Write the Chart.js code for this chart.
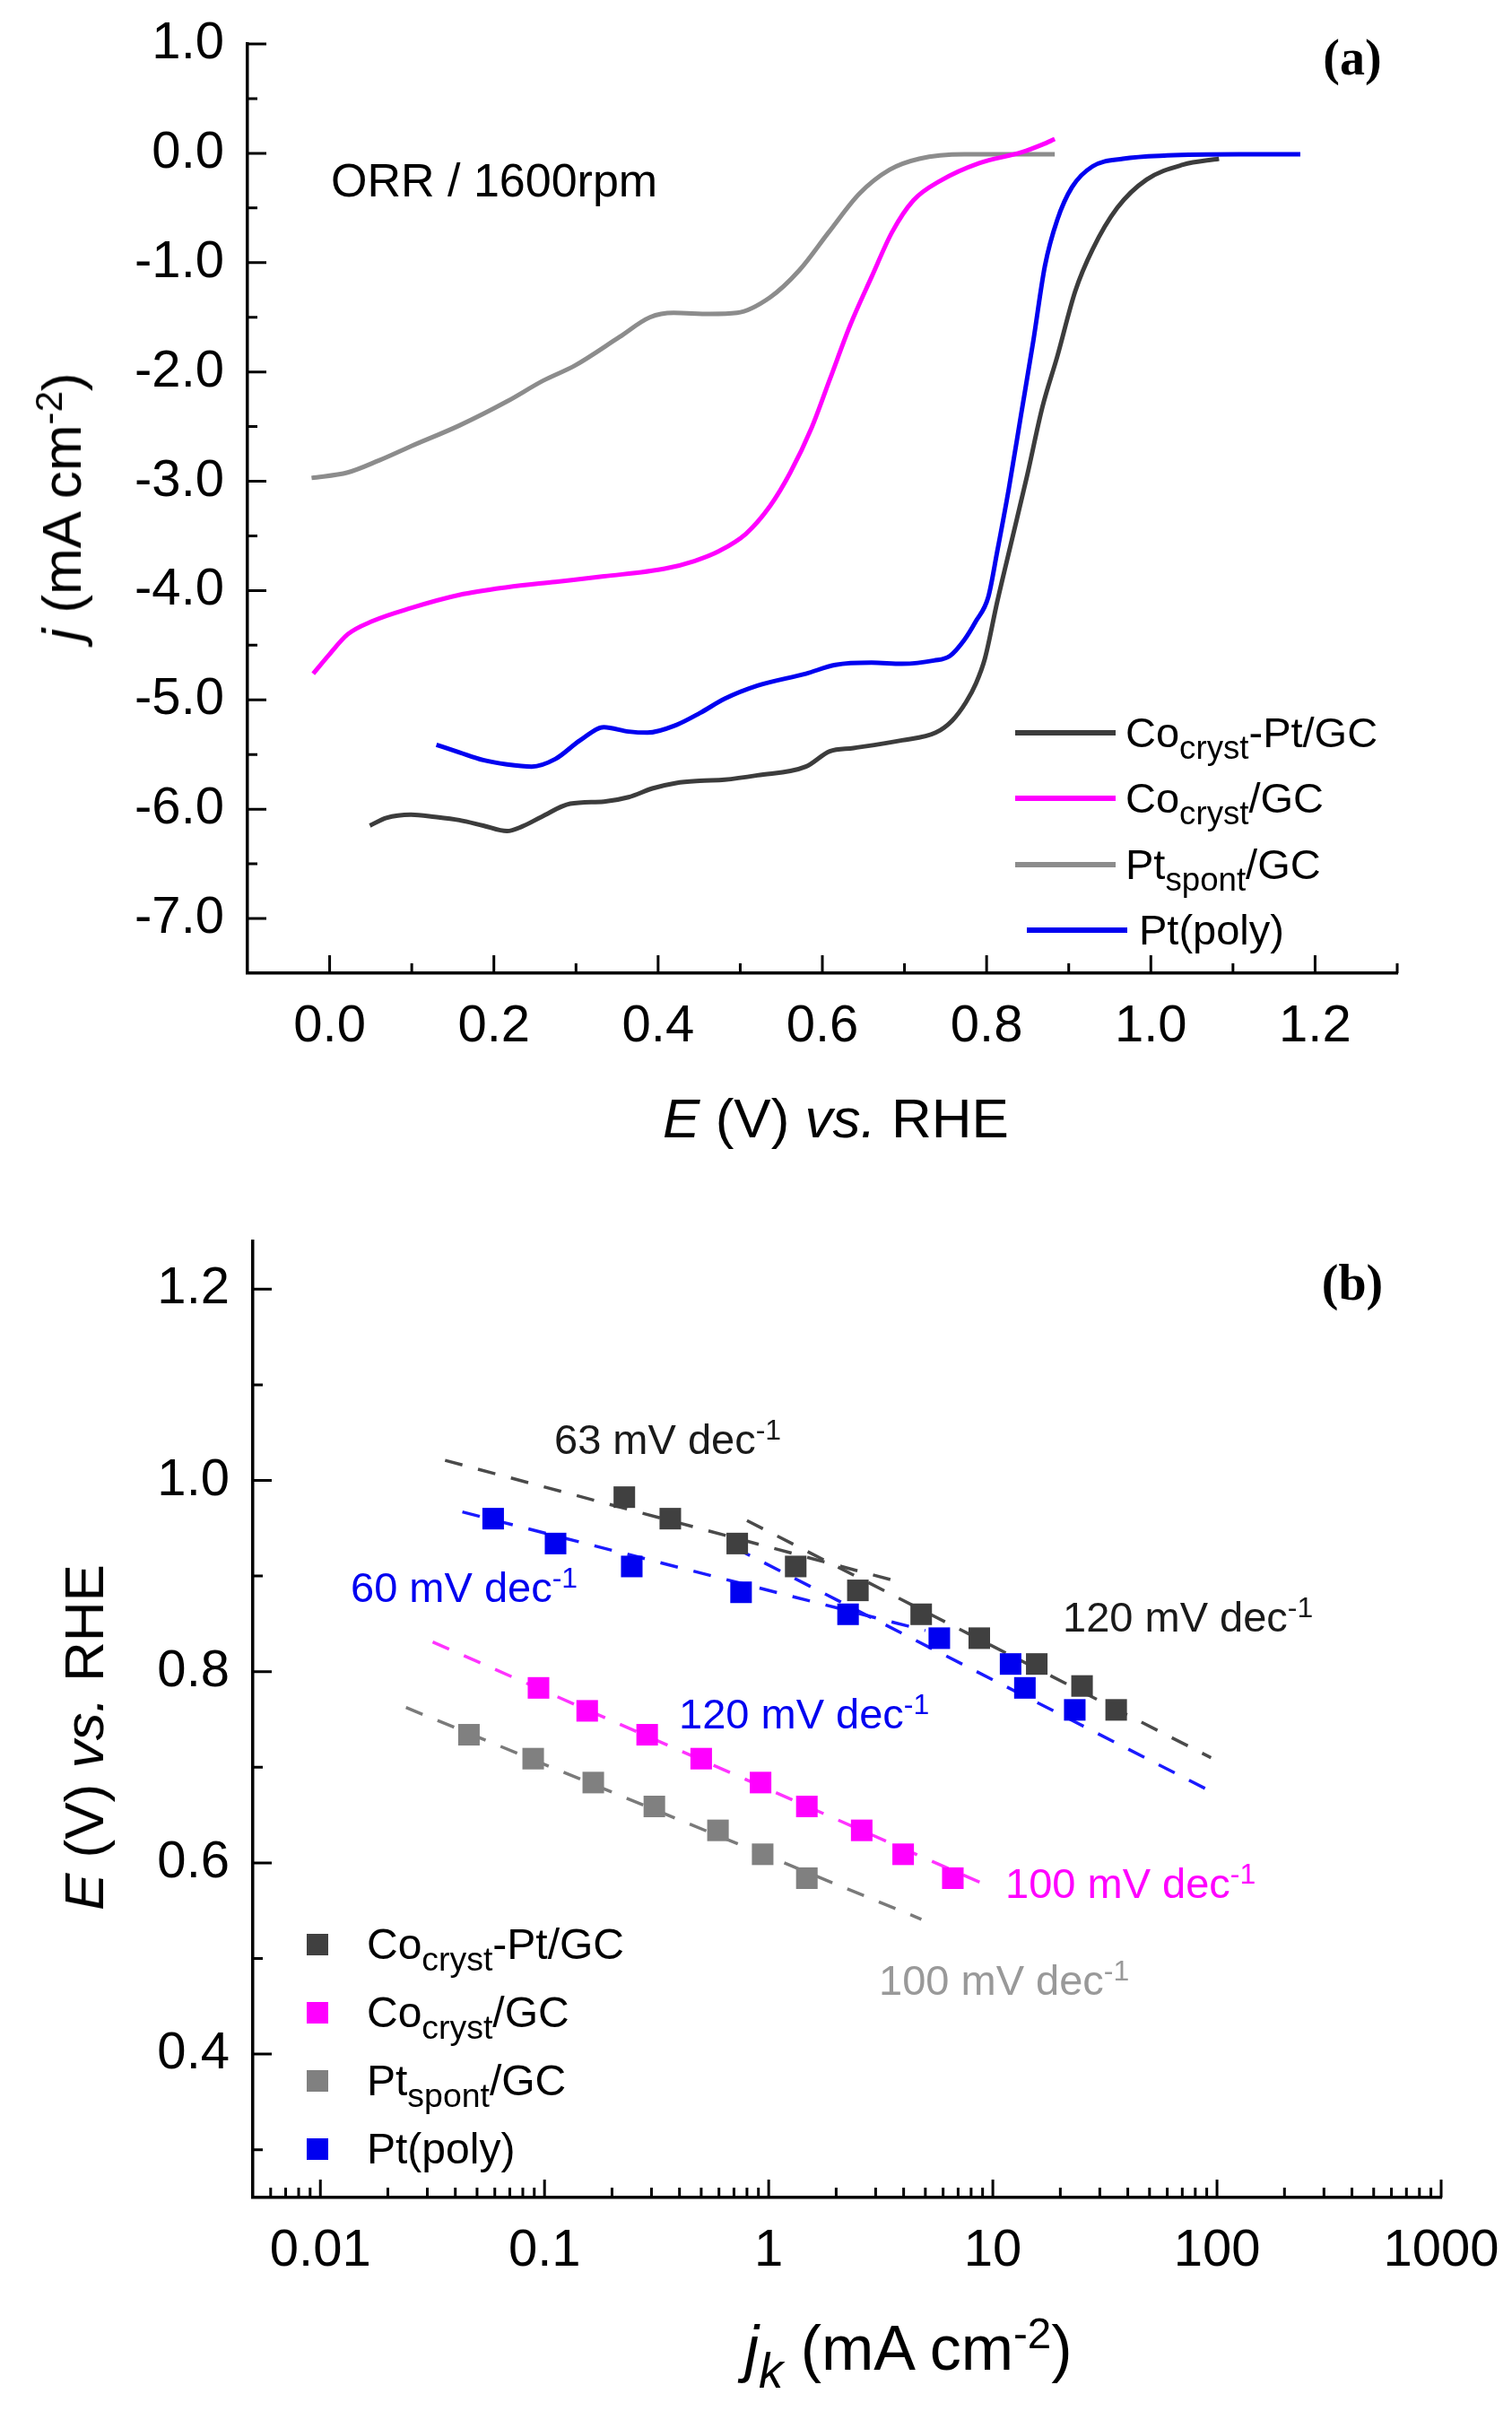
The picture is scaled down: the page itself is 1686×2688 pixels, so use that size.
<!DOCTYPE html>
<html>
<head>
<meta charset="utf-8">
<script src="https://cdn.jsdelivr.net/npm/chart.js@4.4.1/dist/chart.umd.min.js"></script>
<style>
html, body { margin: 0; padding: 0; background: #fff; }
#page { position: relative; width: 1686px; height: 2688px; background: #fff; overflow: hidden; }
canvas { position: absolute; left: 0; }
.t { position: absolute; white-space: nowrap; line-height: 1; font-family: "Liberation Sans", Arial, sans-serif; color: #000; }
.t sub { font-size: 0.78em; vertical-align: -0.36em; line-height: 0; }
.t sup { font-size: 0.68em; vertical-align: 0.5em; line-height: 0; }
.c { transform: translateX(-50%); }
.r { transform: translate(-50%, -50%) rotate(-90deg); }
.sw { position: absolute; }
</style>
</head>
<body>
<div id="page">
  <canvas id="chartA" width="1686" height="1300" style="top:0;width:1686px;height:1300px"></canvas>
  <canvas id="chartB" width="1686" height="1388" style="top:1300px;width:1686px;height:1388px"></canvas>

  <!-- panel (a) texts -->
  <div class="t c" style="left:1508px;top:36px;font-family:'Liberation Serif',serif;font-weight:bold;font-size:56px">(a)</div>
  <div class="t" style="left:369px;top:175px;font-size:52px">ORR / 1600rpm</div>
  <div class="t c" style="left:932px;top:1216px;font-size:62px"><i>E</i> (V) <i>vs.</i> RHE</div>
  <div class="t r" style="left:69px;top:565px;font-size:62px"><i>j</i> (mA cm<sup>-2</sup>)</div>

  <div class="sw" style="left:1132px;top:814px;width:112px;height:6px;background:#3c3c3c"></div>
  <div class="t" style="left:1255px;top:793px;font-size:47px">Co<sub>cryst</sub>-Pt/GC</div>
  <div class="sw" style="left:1132px;top:887px;width:112px;height:6px;background:#ff00ff"></div>
  <div class="t" style="left:1255px;top:866px;font-size:47px">Co<sub>cryst</sub>/GC</div>
  <div class="sw" style="left:1132px;top:961px;width:112px;height:6px;background:#8c8c8c"></div>
  <div class="t" style="left:1255px;top:940px;font-size:47px">Pt<sub>spont</sub>/GC</div>
  <div class="sw" style="left:1145px;top:1034px;width:112px;height:6px;background:#0000f0"></div>
  <div class="t" style="left:1270px;top:1013px;font-size:47px">Pt(poly)</div>

  <!-- panel (b) texts -->
  <div class="t c" style="left:1508px;top:1402px;font-family:'Liberation Serif',serif;font-weight:bold;font-size:56px">(b)</div>
  <div class="t c" style="left:1013px;top:2583px;font-size:70px"><i>j<sub>k</sub></i> (mA cm<sup>-2</sup>)</div>
  <div class="t r" style="left:94px;top:1937px;font-size:62px"><i>E</i> (V) <i>vs.</i> RHE</div>

  <div class="t" style="left:618px;top:1581px;font-size:47px;color:#1a1a1a">63 mV dec<sup>-1</sup></div>
  <div class="t" style="left:391px;top:1746px;font-size:47px;color:#0000f0">60 mV dec<sup>-1</sup></div>
  <div class="t" style="left:1185px;top:1779px;font-size:47px;color:#1a1a1a">120 mV dec<sup>-1</sup></div>
  <div class="t" style="left:757px;top:1887px;font-size:47px;color:#0000f0">120 mV dec<sup>-1</sup></div>
  <div class="t" style="left:1121px;top:2076px;font-size:47px;color:#ff00ff">100 mV dec<sup>-1</sup></div>
  <div class="t" style="left:980px;top:2184px;font-size:47px;color:#999999">100 mV dec<sup>-1</sup></div>

  <div class="sw" style="left:342px;top:2156px;width:24px;height:24px;background:#404040"></div>
  <div class="t" style="left:409px;top:2144px;font-size:48px">Co<sub>cryst</sub>-Pt/GC</div>
  <div class="sw" style="left:342px;top:2232px;width:24px;height:24px;background:#ff00ff"></div>
  <div class="t" style="left:409px;top:2220px;font-size:48px">Co<sub>cryst</sub>/GC</div>
  <div class="sw" style="left:342px;top:2308px;width:24px;height:24px;background:#808080"></div>
  <div class="t" style="left:409px;top:2296px;font-size:48px">Pt<sub>spont</sub>/GC</div>
  <div class="sw" style="left:342px;top:2384px;width:24px;height:24px;background:#0000f0"></div>
  <div class="t" style="left:409px;top:2372px;font-size:48px">Pt(poly)</div>
</div>

<script>
// ---- panel (a): ORR polarisation curves, E (V vs RHE) / j (mA cm-2)
const E_cocrystPt = [0.049, 0.069, 0.099, 0.128, 0.158, 0.187, 0.216, 0.234, 0.258, 0.293, 0.334, 0.364, 0.393, 0.422, 0.451, 0.481, 0.521, 0.58, 0.609, 0.638, 0.697, 0.738, 0.758, 0.775, 0.787, 0.798, 0.813, 0.831, 0.849, 0.868, 0.886, 0.908, 0.929, 0.959, 0.995, 1.039, 1.083];
const j_cocrystPt = [-6.15, -6.08, -6.05, -6.07, -6.10, -6.15, -6.20, -6.16, -6.07, -5.95, -5.93, -5.89, -5.81, -5.76, -5.74, -5.73, -5.69, -5.61, -5.47, -5.44, -5.37, -5.30, -5.19, -5.02, -4.85, -4.62, -4.10, -3.53, -2.96, -2.32, -1.86, -1.26, -0.88, -0.50, -0.24, -0.105, -0.05];

const E_cocryst = [-0.02, -0.001, 0.022, 0.052, 0.099, 0.158, 0.216, 0.275, 0.334, 0.408, 0.444, 0.474, 0.507, 0.536, 0.561, 0.587, 0.609, 0.634, 0.66, 0.685, 0.711, 0.744, 0.791, 0.843, 0.868, 0.883];
const j_cocryst = [-4.76, -4.59, -4.40, -4.28, -4.16, -4.04, -3.97, -3.92, -3.87, -3.80, -3.73, -3.64, -3.48, -3.23, -2.92, -2.51, -2.07, -1.57, -1.13, -0.72, -0.43, -0.25, -0.09, 0.01, 0.08, 0.13];

const E_ptspont = [-0.022, 0.022, 0.06, 0.099, 0.158, 0.216, 0.26, 0.299, 0.353, 0.39, 0.419, 0.463, 0.496, 0.536, 0.572, 0.608, 0.645, 0.682, 0.718, 0.773, 0.883];
const j_ptspont = [-2.97, -2.92, -2.81, -2.68, -2.49, -2.27, -2.08, -1.94, -1.68, -1.50, -1.46, -1.47, -1.46, -1.32, -1.07, -0.72, -0.37, -0.15, -0.05, -0.01, -0.01];

const E_ptpoly = [0.13, 0.158, 0.187, 0.216, 0.246, 0.275, 0.305, 0.334, 0.364, 0.387, 0.422, 0.451, 0.481, 0.521, 0.58, 0.616, 0.66, 0.697, 0.736, 0.755, 0.773, 0.787, 0.802, 0.813, 0.827, 0.842, 0.857, 0.871, 0.886, 0.904, 0.929, 0.966, 1.02, 1.107, 1.182];
const j_ptpoly = [-5.41, -5.48, -5.55, -5.59, -5.61, -5.54, -5.37, -5.25, -5.29, -5.30, -5.23, -5.12, -4.99, -4.87, -4.76, -4.68, -4.66, -4.67, -4.64, -4.60, -4.45, -4.28, -4.06, -3.64, -3.07, -2.39, -1.71, -1.03, -0.61, -0.31, -0.12, -0.05, -0.02, -0.01, -0.01];

const aXTicks = [0, 0.1, 0.2, 0.3, 0.4, 0.5, 0.6, 0.7, 0.8, 0.9, 1.0, 1.1, 1.2, 1.3];
const aXLabels = [0, 0.2, 0.4, 0.6, 0.8, 1.0, 1.2];
const aYTicks = [-7, -6.5, -6, -5.5, -5, -4.5, -4, -3.5, -3, -2.5, -2, -1.5, -1, -0.5, 0, 0.5, 1];
const aYLabels = [-7, -6, -5, -4, -3, -2, -1, 0, 1];

// ---- panel (b): Tafel plots, jk (mA cm-2) / E (V vs RHE)
const jk_cocrystPt = [0.227, 0.364, 0.724, 1.32, 2.5, 4.79, 8.7, 15.7, 25, 35.5];
const Eb_cocrystPt = [0.9825, 0.96, 0.934, 0.91, 0.885, 0.86, 0.835, 0.808, 0.785, 0.76];
const jk_cocryst = [0.094, 0.155, 0.287, 0.5, 0.92, 1.48, 2.6, 3.98, 6.63];
const Eb_cocryst = [0.783, 0.759, 0.734, 0.709, 0.684, 0.659, 0.634, 0.609, 0.584];
const jk_ptspont = [0.046, 0.089, 0.165, 0.309, 0.594, 0.94, 1.48];
const Eb_ptspont = [0.734, 0.709, 0.684, 0.659, 0.634, 0.609, 0.584];
const jk_ptpoly = [0.059, 0.112, 0.245, 0.753, 2.26, 5.77, 12, 13.9, 23.2];
const Eb_ptpoly = [0.96, 0.934, 0.91, 0.883, 0.86, 0.835, 0.808, 0.783, 0.76];

// Tafel fit lines (end points)
const fit63_j = [0.036, 3.8], fit63_E = [1.021, 0.894];
const fit120k_j = [0.8, 94], fit120k_E = [0.958, 0.71];
const fit60_j = [0.043, 5], fit60_E = [0.967, 0.843];
const fit120b_j = [0.7, 99], fit120b_E = [0.93, 0.672];
const fit100m_j = [0.0317, 9.3], fit100m_E = [0.831, 0.577];
const fit100g_j = [0.0241, 4.8], fit100g_E = [0.7625, 0.541];

const bXTicks = [0.006, 0.007, 0.008, 0.009, 0.01, 0.02, 0.03, 0.04, 0.05, 0.06, 0.07, 0.08, 0.09,
  0.1, 0.2, 0.3, 0.4, 0.5, 0.6, 0.7, 0.8, 0.9, 1, 2, 3, 4, 5, 6, 7, 8, 9,
  10, 20, 30, 40, 50, 60, 70, 80, 90, 100, 200, 300, 400, 500, 600, 700, 800, 900, 1000];
const bXLabels = [0.01, 0.1, 1, 10, 100, 1000];
const bYTicks = [0.3, 0.4, 0.5, 0.6, 0.7, 0.8, 0.9, 1.0, 1.1, 1.2];
const bYLabels = [0.4, 0.6, 0.8, 1.0, 1.2];

const FONT = "'Liberation Sans', Arial, sans-serif";

function pts(xs, ys) { return xs.map((x, i) => ({ x: x, y: ys[i] })); }
function hasVal(list, v) { return list.some(l => Math.abs(l - v) < 1e-6 * Math.max(1, Math.abs(l))); }

// inward tick marks, drawn at the scales' own tick values
function innerTicks(xMajor, yMajor) {
  return {
    id: 'innerTicks',
    afterDraw(chart) {
      const ctx = chart.ctx, a = chart.chartArea, xs = chart.scales.x, ys = chart.scales.y;
      ctx.save();
      ctx.strokeStyle = '#000';
      ctx.lineWidth = 3;
      ctx.beginPath();
      xs.ticks.forEach(t => {
        const p = xs.getPixelForValue(t.value);
        const L = hasVal(xMajor, t.value) ? 20 : 11;
        ctx.moveTo(p, a.bottom);
        ctx.lineTo(p, a.bottom - L);
      });
      ys.ticks.forEach(t => {
        const p = ys.getPixelForValue(t.value);
        const L = hasVal(yMajor, t.value) ? 21 : 11;
        ctx.moveTo(a.left, p);
        ctx.lineTo(a.left + L, p);
      });
      ctx.stroke();
      ctx.restore();
    }
  };
}

// fixed axis boxes, no extra room for label overhang
function fixX(h) { return s => { s.height = h; s.paddingLeft = 0; s.paddingRight = 0; }; }
function fixY(w) { return s => { s.width = w; s.paddingTop = 0; s.paddingBottom = 0; }; }

const tickFont = { family: FONT, size: 58 };

new Chart(document.getElementById('chartA'), {
  type: 'line',
  data: {
    datasets: [
      { label: 'Pt(poly)', data: pts(E_ptpoly, j_ptpoly), borderColor: '#0000f0' },
      { label: 'Co_cryst-Pt/GC', data: pts(E_cocrystPt, j_cocrystPt), borderColor: '#3c3c3c' },
      { label: 'Co_cryst/GC', data: pts(E_cocryst, j_cocryst), borderColor: '#ff00ff' },
      { label: 'Pt_spont/GC', data: pts(E_ptspont, j_ptspont), borderColor: '#8c8c8c' }
    ]
  },
  options: {
    responsive: false,
    animation: false,
    devicePixelRatio: 1,
    layout: { padding: { left: 0, right: 128, top: 49, bottom: 0 } },
    elements: {
      point: { radius: 0 },
      line: { borderWidth: 5, fill: false, cubicInterpolationMode: 'monotone' }
    },
    plugins: { legend: { display: false }, tooltip: { enabled: false } },
    scales: {
      x: {
        type: 'linear', min: -0.1, max: 1.3,
        afterBuildTicks: s => { s.ticks = aXTicks.map(v => ({ value: v })); },
        afterFit: fixX(215),
        grid: { display: false, drawTicks: false },
        border: { display: true, color: '#000', width: 3.5 },
        ticks: {
          autoSkip: false, maxRotation: 0, padding: 25, color: '#000', font: tickFont,
          callback: v => hasVal(aXLabels, v) ? (Math.round(v * 10) / 10).toFixed(1) : ''
        }
      },
      y: {
        type: 'linear', min: -7.5, max: 1.0,
        afterBuildTicks: s => { s.ticks = aYTicks.map(v => ({ value: v })); },
        afterFit: fixY(276),
        grid: { display: false, drawTicks: false },
        border: { display: true, color: '#000', width: 3.5 },
        ticks: {
          autoSkip: false, padding: 26, color: '#000', font: tickFont,
          callback: v => hasVal(aYLabels, v) ? (Math.round(v * 10) / 10).toFixed(1) : ''
        }
      }
    }
  },
  plugins: [innerTicks(aXLabels, aYLabels)]
});

function squares(label, xs, ys, color) {
  return { label: label, data: pts(xs, ys), showLine: false, pointStyle: 'rect', pointRadius: 17,
    pointBackgroundColor: color, pointBorderWidth: 0, borderColor: color, order: 0 };
}
function fitLine(xs, ys, color) {
  return { label: 'fit', data: pts(xs, ys), borderColor: color, borderWidth: 3.5,
    borderDash: [20, 18], pointRadius: 0, order: 1 };
}

new Chart(document.getElementById('chartB'), {
  type: 'line',
  data: {
    datasets: [
      fitLine(fit63_j, fit63_E, '#4a4a4a'),
      fitLine(fit120k_j, fit120k_E, '#4a4a4a'),
      fitLine(fit60_j, fit60_E, '#1a1aff'),
      fitLine(fit120b_j, fit120b_E, '#1a1aff'),
      fitLine(fit100m_j, fit100m_E, '#ff33ff'),
      fitLine(fit100g_j, fit100g_E, '#7a7a7a'),
      squares('Co_cryst-Pt/GC', jk_cocrystPt, Eb_cocrystPt, '#404040'),
      squares('Co_cryst/GC', jk_cocryst, Eb_cocryst, '#ff00ff'),
      squares('Pt_spont/GC', jk_ptspont, Eb_ptspont, '#808080'),
      squares('Pt(poly)', jk_ptpoly, Eb_ptpoly, '#0000f0')
    ]
  },
  options: {
    responsive: false,
    animation: false,
    devicePixelRatio: 1,
    layout: { padding: { left: 0, right: 79, top: 84, bottom: 0 } },
    plugins: { legend: { display: false }, tooltip: { enabled: false } },
    scales: {
      x: {
        type: 'logarithmic', min: 0.005, max: 1000,
        afterBuildTicks: s => { s.ticks = bXTicks.map(v => ({ value: v })); },
        afterFit: fixX(238),
        grid: { display: false, drawTicks: false },
        border: { display: true, color: '#000', width: 3.5 },
        ticks: {
          autoSkip: false, maxRotation: 0, padding: 25, color: '#000', font: tickFont,
          callback: v => hasVal(bXLabels, v) ? String(bXLabels.find(l => hasVal([l], v))) : ''
        }
      },
      y: {
        type: 'linear', min: 0.25, max: 1.25,
        afterBuildTicks: s => { s.ticks = bYTicks.map(v => ({ value: v })); },
        afterFit: fixY(282),
        grid: { display: false, drawTicks: false },
        border: { display: true, color: '#000', width: 3.5 },
        ticks: {
          autoSkip: false, padding: 26, color: '#000', font: tickFont,
          callback: v => hasVal(bYLabels, v) ? (Math.round(v * 10) / 10).toFixed(1) : ''
        }
      }
    }
  },
  plugins: [innerTicks(bXLabels, bYLabels)]
});
</script>
</body>
</html>
